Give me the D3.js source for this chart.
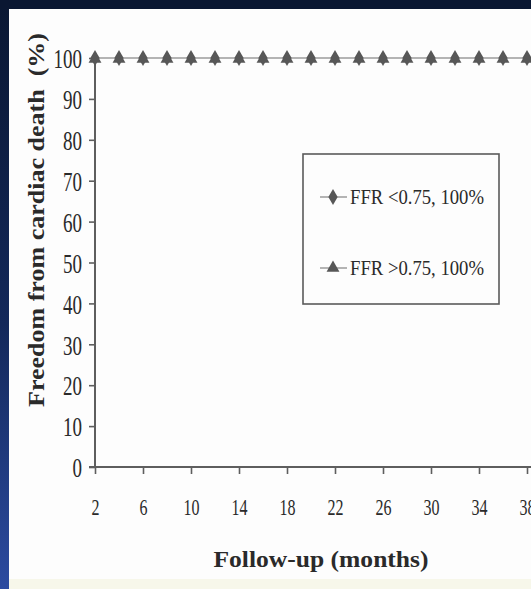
<!DOCTYPE html>
<html>
<head>
<meta charset="utf-8">
<script src="https://cdn.jsdelivr.net/npm/d3@7/dist/d3.min.js"></script>
<style>
  html, body { margin: 0; padding: 0; background: #0b1a3a; }
  svg { display: block; }
  text { font-family: "Liberation Serif", "Times New Roman", serif; fill: #2a2a2a; }
</style>
</head>
<body>
<svg id="chart" width="531" height="589"></svg>
<script>
// Follow-up months at which survival was recorded
const months = [2, 4, 6, 8, 10, 12, 14, 16, 18, 20, 22, 24, 26, 28, 30, 32, 34, 36, 38];
// Freedom from cardiac death (%) for each FFR group
const ffrBelow = [100, 100, 100, 100, 100, 100, 100, 100, 100, 100, 100, 100, 100, 100, 100, 100, 100, 100, 100];
const ffrAbove = [100, 100, 100, 100, 100, 100, 100, 100, 100, 100, 100, 100, 100, 100, 100, 100, 100, 100, 100];
const seriesNames = ["FFR <0.75, 100%", "FFR >0.75, 100%"];
const xTicks = [2, 6, 10, 14, 18, 22, 26, 30, 34, 38];
const yTicks = [0, 10, 20, 30, 40, 50, 60, 70, 80, 90, 100];

const W = 531, H = 589;
const svg = d3.select("#chart");

// Frame: dark band top, blue gradient on the left, white panel
const defs = svg.append("defs");
const grad = defs.append("linearGradient").attr("id", "frameGrad")
  .attr("x1", 0).attr("y1", 0).attr("x2", 0).attr("y2", 1);
grad.append("stop").attr("offset", "0%").attr("stop-color", "#0a1732");
grad.append("stop").attr("offset", "55%").attr("stop-color", "#13285a");
grad.append("stop").attr("offset", "100%").attr("stop-color", "#2c4ba0");
svg.append("rect").attr("width", W).attr("height", H).attr("fill", "url(#frameGrad)");
svg.append("rect").attr("x", 0).attr("y", 0).attr("width", W).attr("height", 9).attr("fill", "#0a1732");
svg.append("rect").attr("x", 9).attr("y", 9).attr("width", W - 9).attr("height", H - 9).attr("fill", "#fdfdfd");
svg.append("rect").attr("x", 9).attr("y", 579).attr("width", W - 9).attr("height", 10).attr("fill", "#f7f7ea");

// Scales
const x = d3.scaleLinear().domain([2, 42]).range([95, 575]);
const y = d3.scaleLinear().domain([0, 100]).range([467, 58]);

const axisColor = "#5e5e5e";

// Y axis
const yAxis = svg.append("g").attr("transform", `translate(${x(2)},0)`)
  .call(d3.axisLeft(y).tickValues(yTicks).tickSize(6).tickPadding(7).tickFormat(d3.format("d")));
yAxis.select(".domain").attr("stroke", axisColor).attr("stroke-width", 2).attr("d", `M0,${y(0)}V${y(100)}`);
yAxis.selectAll(".tick line").attr("stroke", axisColor).attr("stroke-width", 1.6);
yAxis.selectAll(".tick text")
  .attr("font-family", "Liberation Serif").attr("font-size", 27).attr("fill", "#333")
  .attr("dy", "0.36em")
  .each(function (d) {
    const s = String(d);
    d3.select(this).attr("textLength", 9.5 * s.length).attr("lengthAdjust", "spacingAndGlyphs");
  });

// X axis
const xAxis = svg.append("g").attr("transform", `translate(0,${y(0)})`)
  .call(d3.axisBottom(x).tickValues(xTicks).tickSize(7).tickPadding(41).tickFormat(d3.format("d")));
xAxis.select(".domain").attr("stroke", axisColor).attr("stroke-width", 2).attr("d", `M89,0H${W + 10}`);
xAxis.selectAll(".tick line").attr("stroke", axisColor).attr("stroke-width", 1.6);
xAxis.selectAll(".tick text")
  .attr("font-family", "Liberation Serif").attr("font-size", 24).attr("fill", "#2e2e2e")
  .attr("dy", "0")
  .each(function (d) {
    const s = String(d);
    d3.select(this).attr("textLength", 8 * s.length).attr("lengthAdjust", "spacingAndGlyphs");
  });

// Series lines and markers
const lineGen = d3.line().x(d => x(d[0])).y(d => y(d[1]));
const below = months.map((m, i) => [m, ffrBelow[i]]);
const above = months.map((m, i) => [m, ffrAbove[i]]);

const markerColor = "#575757";
const lineColor = "#b4b4b4";
const diamond = d3.symbol(d3.symbolDiamond, 75);
const triangle = d3.symbol(d3.symbolTriangle, 72);

svg.append("path").datum(below).attr("d", lineGen)
  .attr("fill", "none").attr("stroke", lineColor).attr("stroke-width", 2);
svg.append("path").datum(above).attr("d", lineGen)
  .attr("fill", "none").attr("stroke", lineColor).attr("stroke-width", 2);

svg.append("g").selectAll("path").data(below).join("path")
  .attr("d", diamond).attr("fill", markerColor)
  .attr("transform", d => `translate(${x(d[0])},${y(d[1])})`);
svg.append("g").selectAll("path").data(above).join("path")
  .attr("d", triangle).attr("fill", markerColor)
  .attr("transform", d => `translate(${x(d[0])},${y(d[1]) + 1})`);

// Legend
const legend = svg.append("g");
legend.append("rect").attr("x", 303).attr("y", 154).attr("width", 196).attr("height", 150)
  .attr("fill", "#fdfdfd").attr("stroke", "#5a5a5a").attr("stroke-width", 1.6);
const rows = [
  { name: seriesNames[0], sym: diamond, yy: 197 },
  { name: seriesNames[1], sym: triangle, yy: 268 }
];
rows.forEach(r => {
  legend.append("line").attr("x1", 320).attr("x2", 347).attr("y1", r.yy).attr("y2", r.yy)
    .attr("stroke", lineColor).attr("stroke-width", 2);
  legend.append("path").attr("d", r.sym).attr("fill", markerColor)
    .attr("transform", `translate(333,${r.yy})`);
  legend.append("text").attr("x", 350).attr("y", r.yy + 7)
    .attr("font-size", 21).attr("fill", "#2a2a2a")
    .attr("textLength", 134).attr("lengthAdjust", "spacingAndGlyphs")
    .text(r.name);
});

// Axis titles
svg.append("text")
  .attr("transform", "translate(44,220) rotate(-90)")
  .attr("text-anchor", "middle")
  .attr("font-size", 24).attr("font-weight", "bold").attr("fill", "#1e1e1e")
  .style("white-space", "pre")
  .attr("textLength", 374).attr("lengthAdjust", "spacingAndGlyphs")
  .text("Freedom from cardiac death  (%)");

svg.append("text")
  .attr("x", 321).attr("y", 567)
  .attr("text-anchor", "middle")
  .attr("font-size", 24).attr("font-weight", "bold").attr("fill", "#1e1e1e")
  .attr("textLength", 215).attr("lengthAdjust", "spacingAndGlyphs")
  .text("Follow-up (months)");
</script>
</body>
</html>
